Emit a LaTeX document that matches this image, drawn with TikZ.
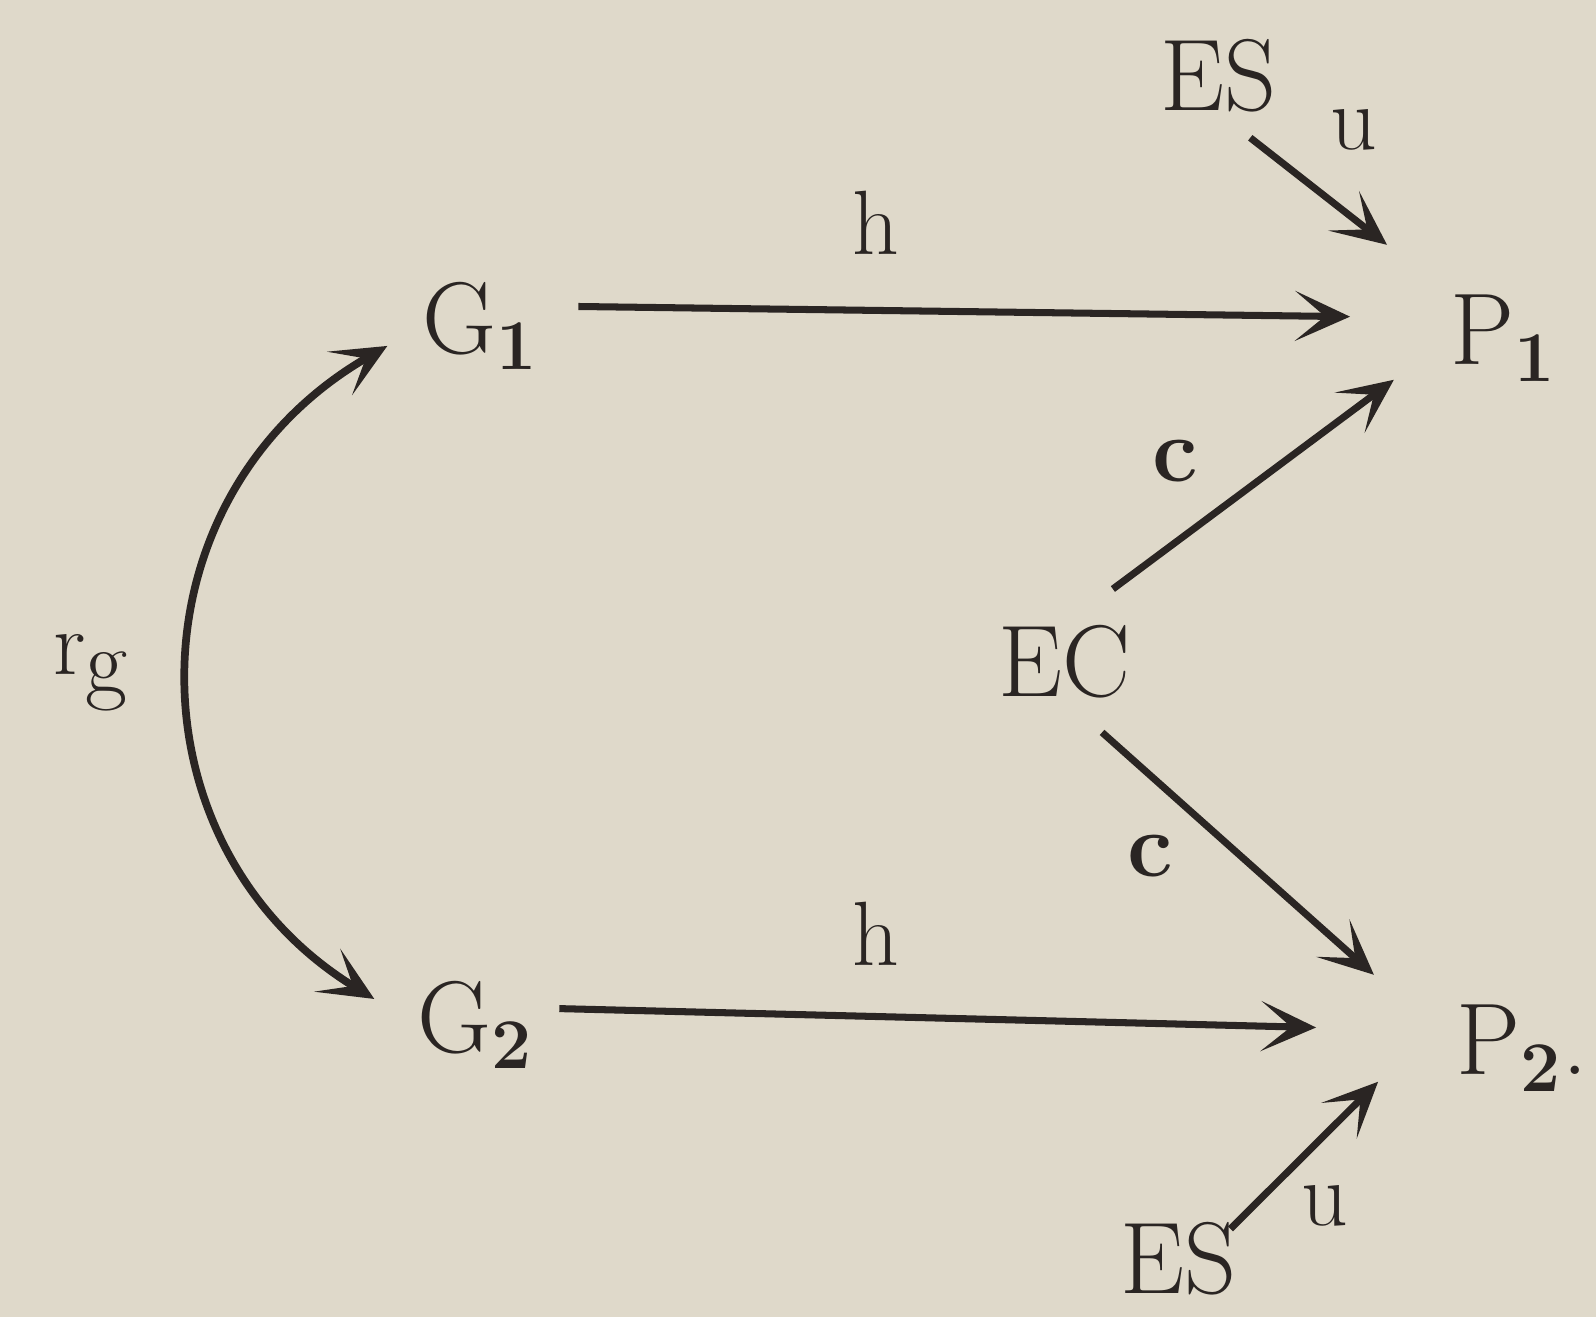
\documentclass[tikz,border=0pt]{standalone}
\usepackage{xcolor}
\definecolor{PaperTone}{HTML}{DFD9CA}
\definecolor{InkDark}{HTML}{2A2523}
\usepackage{tikz}
\usetikzlibrary{arrows.meta,positioning}

\begin{document}
\begin{tikzpicture}[
  obj/.style={font=\fontsize{29}{33}\selectfont, text=InkDark, inner sep=0pt, anchor=west},
  lbl/.style={font=\fontsize{26}{30}\selectfont, text=InkDark, inner sep=2pt},
  arr/.style={-{Stealth[length=5.5mm, width=5mm, inset=3mm]}, line width=2pt, color=InkDark},
  biarr/.style={{Stealth[length=5.5mm, width=5mm, inset=3mm]}-{Stealth[length=5.5mm, width=5mm, inset=3mm]},
                line width=2.2pt, color=InkDark},
]
  % Paper
  \fill[PaperTone] (0,0) rectangle (15.96,13.17);
  \useasboundingbox (0,0) rectangle (15.96,13.17);

  % Objects
  \node[obj] (g1) at (4.22,9.91) {G\textsubscript{\textbf{1}}};
  \node[obj] (g2) at (4.17,2.92) {G\textsubscript{\textbf{2}}};
  \node[obj] (p1) at (14.50,9.79) {P\textsubscript{\textbf{1}}};
  \node[obj] (p2) at (14.56,2.69) {P\textsubscript{\textbf{2}}.};
  \node[obj] (ec) at (9.98,6.55) {EC};
  \node[obj] (esTop) at (11.60,12.41) {ES};
  \node[obj] (esBot) at (11.20,0.58) {ES};

  % Horizontal maps
  \draw[arr, shorten <=3.9mm, shorten >=10mm] ([yshift=2mm]g1.east) -- node[lbl, above=4.5mm, pos=0.37] (hTop) {h} ([yshift=2mm]p1.west);
  \draw[arr, shorten <=2.5mm, shorten >=14mm] ([yshift=1.7mm]g2.east) -- node[lbl, above=4mm, pos=0.37] (hBot) {h} ([yshift=1.7mm]p2.west);

  % From EC
  \draw[arr, shorten <=6mm, shorten >=7mm] (ec.north) -- node[lbl, above left=2mm, pos=0.41] (cTop) {\textbf{c}} (p1.west);
  \draw[arr, shorten <=5mm, shorten >=11mm] (ec.south) -- node[lbl, below left=1.5mm, pos=0.33] (cBot) {\textbf{c}} (p2.west);

  % From ES
  \draw[arr, shorten <=4mm, shorten >=8mm] (esTop.south) -- node[lbl, above right=2.5mm, pos=0.36] (uTop) {u} (p1.north west);
  \draw[arr, shorten <=-1mm, shorten >=11mm] (esBot.north east) -- node[lbl, below right=0.5mm, pos=0.23] (uBot) {u} (p2.north west);

  % r_g between G's
  \draw[biarr, shorten <=5mm, shorten >=4mm] (g2.west) .. controls (1.25,4.7) and (1.25,8.2) .. node[lbl, left=6mm, pos=0.5] (rg) {\raisebox{0.45ex}{r}g} (g1.west);
\end{tikzpicture}
\end{document}
